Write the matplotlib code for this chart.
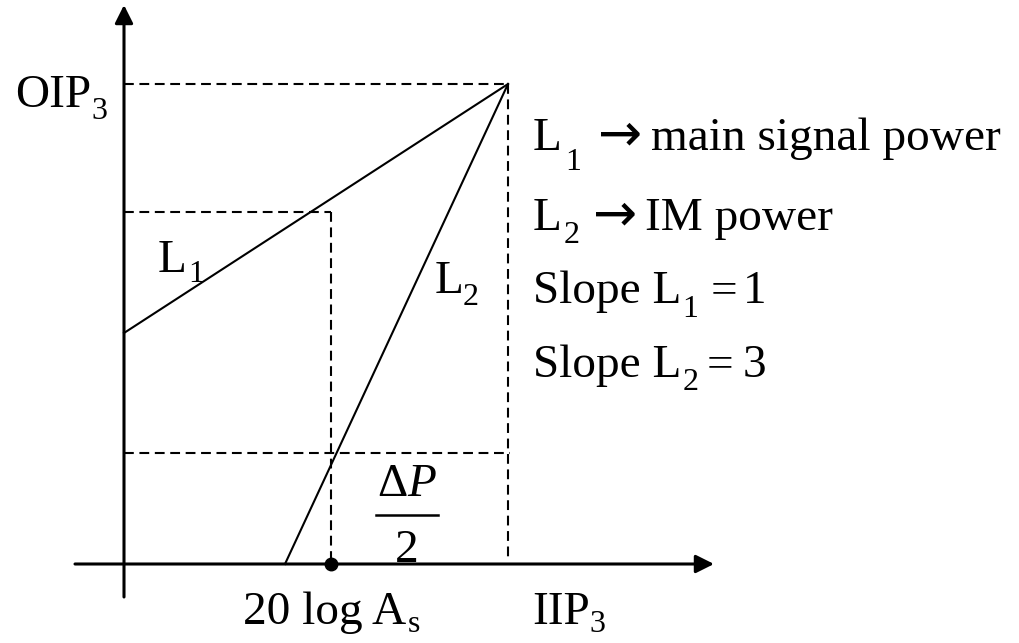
import matplotlib
matplotlib.use("Agg")
import matplotlib.pyplot as plt
from matplotlib.transforms import offset_copy

plt.rcParams['font.family'] = ['Liberation Serif', 'DejaVu Sans']
plt.rcParams['mathtext.fontset'] = 'custom'
plt.rcParams['mathtext.rm'] = 'Liberation Serif'
plt.rcParams['mathtext.it'] = 'Liberation Serif:italic'

# diagram values (arbitrary units, origin where the axes cross)
iip3 = 3.84
oip3 = 4.80
as_x = 2.07          # 20 log As on the input axis
l1_start = [0.0, 2.31]
l2_start = [1.61, 0.0]
l1_at_as = 3.52      # level of L1 reached at 20 log As
im_level = 1.11      # level of IM power at 20 log As

x_axis = [-0.49, 5.90]
y_axis = [-0.33, 5.59]

FS = 34
SUB = 23
ARROW = '\u2192'

fig = plt.figure(figsize=(10.19, 6.43), dpi=100)
ax = fig.add_axes([0, 0, 1, 1])
ax.set_xlim(-1.24, 8.95)
ax.set_ylim(-0.79, 5.64)
ax.axis('off')
rend = fig.canvas.get_renderer()


def rich(x, y, parts):
    """ draw text pieces one after another: (text, size, drop px, gap px) """
    dx = 0
    for s, size, drop, gap in parts:
        dx += gap
        tr = offset_copy(ax.transData, fig=fig, x=dx, y=-drop, units='dots')
        fam = ['DejaVu Sans'] if s == ARROW else None
        t = ax.text(x, y, s, fontsize=size, va='baseline', transform=tr,
                    family=fam)
        dx += t.get_window_extent(rend).width


# axes with arrow heads
arr = dict(arrowstyle='-|>,head_length=11,head_width=5.5', mutation_scale=1,
           lw=2.2, color='k', shrinkA=0, shrinkB=0)
ax.annotate('', xy=(x_axis[1], 0), xytext=(x_axis[0], 0), arrowprops=arr)
ax.annotate('', xy=(0, y_axis[1]), xytext=(0, y_axis[0]), arrowprops=arr)

# L1 and L2
ax.plot([l1_start[0], iip3], [l1_start[1], oip3], color='k', lw=1.5)
ax.plot([l2_start[0], iip3], [l2_start[1], oip3], color='k', lw=1.5)

# dashed guides
dash = dict(color='k', lw=1.5, ls=(0, (4.7, 2.7)))
ax.plot([0, iip3], [oip3, oip3], **dash)
ax.plot([iip3, iip3], [oip3, 0.03], **dash)
ax.plot([0, as_x], [l1_at_as, l1_at_as], **dash)
ax.plot([as_x, as_x], [l1_at_as, 0.03], **dash)
ax.plot([0, iip3 + 0.02], [im_level, im_level], **dash)

ax.plot([as_x], [0], 'o', color='k', ms=9)

# labels
AR = 38
rich(-1.09, 4.57, [('OIP', FS, 0, 0), ('3', SUB, 12, 0)])
rich(0.34, 2.92, [('L', FS, 0, 0), ('1', SUB, 10, 1)])
rich(3.11, 2.71, [('L', FS, 0, 0), ('2', SUB, 12, -1)])
rich(4.09, 4.14, [('L', FS, 0, 0), ('1', SUB, 20, 3), (ARROW, AR, 0, 17),
                  ('main signal power', FS, 0, 9)])
rich(4.09, 3.34, [('L', FS, 0, 0), ('2', SUB, 13, 2), (ARROW, AR, 0, 13),
                  ('IM power', FS, 0, 8)])
rich(4.09, 2.61, [('Slope L', FS, 0, 0), ('1', SUB, 14, 1), ('=', FS, 0, 12),
                  ('1', FS, 0, 6)])
rich(4.09, 1.87, [('Slope L', FS, 0, 0), ('2', SUB, 13, 1), ('=', FS, 0, 8),
                  ('3', FS, 0, 10)])
rich(1.19, -0.595, [('20 log', FS, 0, 0), ('A', FS, 0, 9), ('s', SUB, 9, 2)])
rich(4.08, -0.595, [('IIP', FS, 0, 0), ('3', SUB, 9, 0)])

# delta P over 2
dp_x = 2.83
ax.text(dp_x, 0.68, r'$\Delta P$', fontsize=FS, ha='center', va='baseline')
ax.plot([dp_x - 0.31, dp_x + 0.31], [0.49, 0.49], color='k', lw=1.8)
ax.text(dp_x, 0.015, '2', fontsize=FS, ha='center', va='baseline')

fig.savefig('out.png', dpi=100)
